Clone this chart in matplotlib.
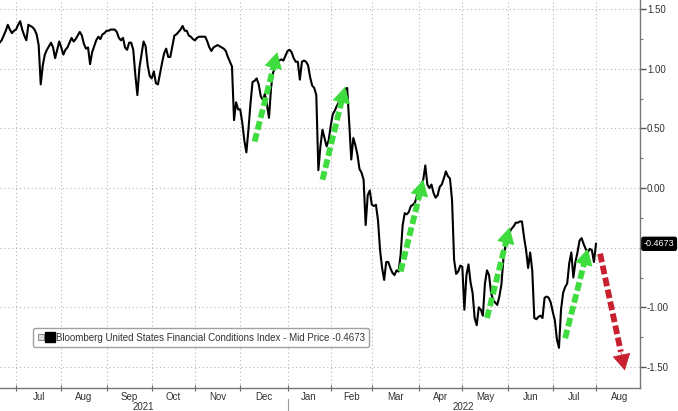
import numpy as np
import pandas as pd
import matplotlib
matplotlib.use("Agg")
import matplotlib.pyplot as plt
import matplotlib.transforms as mtransforms
from matplotlib.lines import Line2D
from matplotlib.legend_handler import HandlerTuple

plt.rcParams['font.family'] = ['Liberation Sans', 'DejaVu Sans']
plt.rcParams['axes.unicode_minus'] = False

# ---------------- data ----------------
start_date = '2021-06-21'          # first business day shown; one value per business day
fci_values = [
    # Jun 2021 (21-30)
    1.22, 1.24, 1.28, 1.32, 1.37, 1.33, 1.30, 1.32,
    # Jul 2021
    1.33, 1.37, 1.40, 1.33, 1.28, 1.24, 1.37, 1.36, 1.35, 1.33, 1.29, 1.20, 0.87, 1.03, 1.12, 1.16,
    1.19, 1.22, 1.18, 1.09, 1.16, 1.23,
    # Aug 2021
    1.18, 1.12, 1.16, 1.18, 1.22, 1.26, 1.23, 1.25, 1.28, 1.31, 1.28, 1.21, 1.17, 1.18, 1.04, 1.14,
    1.19, 1.24, 1.27, 1.25, 1.29, 1.30,
    # Sep 2021
    1.32, 1.32, 1.33, 1.33, 1.33, 1.31, 1.26, 1.24, 1.26, 1.18, 1.16, 1.22, 1.22, 1.16, 0.95, 0.78,
    1.01, 1.12, 1.23, 1.19, 1.03, 0.94,
    # Oct 2021
    0.92, 0.98, 0.88, 0.87, 0.96, 1.05, 1.13, 1.17, 1.10, 1.10, 1.19, 1.28, 1.29, 1.31, 1.33, 1.36,
    1.32, 1.32, 1.28, 1.27, 1.25,
    # Nov 2021
    1.24, 1.26, 1.27, 1.27, 1.27, 1.27, 1.23, 1.18, 1.15, 1.18, 1.19, 1.20, 1.19, 1.18, 1.17, 1.15,
    1.10, 1.06, 1.02, 0.57, 0.72, 0.66,
    # Dec 2021
    0.66, 0.55, 0.40, 0.30, 0.49, 0.71, 0.89, 0.90, 0.92, 0.87, 0.77, 0.74, 0.79, 0.70, 0.59, 0.84,
    0.97, 1.01, 1.04, 1.07, 1.08, 1.07, 1.11,
    # Jan 2022
    1.15, 1.16, 1.14, 1.09, 1.06, 1.06, 0.91, 1.06, 1.07, 1.06, 1.03, 0.93, 0.86, 0.84, 0.78, 0.15,
    0.35, 0.49, 0.42, 0.35, 0.40,
    # Feb 2022
    0.52, 0.62, 0.65, 0.69, 0.72, 0.74, 0.78, 0.83, 0.84, 0.55, 0.24, 0.42, 0.36, 0.28, 0.16, 0.13,
    0.07, -0.31, -0.06, -0.02,
    # Mar 2022
    -0.14, -0.15, -0.14, -0.27, -0.52, -0.67, -0.77, -0.62, -0.62, -0.67, -0.71, -0.73, -0.69, -0.70,
    -0.56, -0.31, -0.21, -0.22, -0.20, -0.15, -0.14, -0.12, -0.06,
    # Apr 2022
    -0.02, 0.02, 0.07, 0.19, 0.03, 0.00, 0.03, -0.04, -0.08, -0.06, 0.01, 0.03, 0.08, 0.14, 0.10,
    0.08, -0.10, -0.60, -0.72, -0.70, -0.65,
    # May 2022
    -0.66, -1.02, -0.73, -0.64, -0.79, -0.88, -1.09, -1.15, -1.00, -1.02, -1.07, -0.80, -0.69, -0.73,
    -0.88, -0.94, -0.96, -0.98, -0.91, -0.81, -0.59, -0.48,
    # Jun 2022
    -0.42, -0.37, -0.34, -0.32, -0.29, -0.29, -0.28, -0.28, -0.41, -0.52, -0.67, -0.54, -0.69, -1.09,
    -1.10, -1.08, -1.07, -1.09, -0.92, -0.91, -0.92, -0.96,
    # Jul 2022
    -1.04, -1.11, -1.27, -1.34, -1.02, -0.88, -0.83, -0.80, -0.63, -0.54, -0.75, -0.62, -0.54, -0.44,
    -0.42, -0.47, -0.51, -0.54, -0.51, -0.52, -0.62,
    # Aug 1 2022
    -0.4673,
]
last_value = -0.4673
series_label = 'Bloomberg United States Financial Conditions Index - Mid Price'
y_ticks = [1.50, 1.00, 0.50, 0.00, -0.50, -1.00, -1.50]
month_starts = pd.date_range('2021-07-01', '2022-09-01', freq='MS')
year_labels = ['2021', '2022']

# (start date, start value, end date, end value)
green_arrows = [
    ('2021-12-10', 0.39, '2021-12-27', 1.14),
    ('2022-01-26', 0.07, '2022-02-10', 0.85),
    ('2022-03-21', -0.70, '2022-04-05', 0.07),
    ('2022-05-18', -1.09, '2022-06-02', -0.33),
    ('2022-07-11', -1.26, '2022-07-26', -0.51),
]
red_arrows = [
    ('2022-08-03', -0.55, '2022-08-19', -1.53),
]

# ---------------- helpers ----------------
start64 = np.datetime64(start_date, 'D')


def bpos(d):
    d64 = np.datetime64(pd.Timestamp(d).date(), 'D')
    return int(np.busday_count(start64, d64))


dates = pd.bdate_range(start_date, periods=len(fci_values))
xpos = np.array([bpos(d) for d in dates])

# ---------------- figure ----------------
W, H = 678, 411
fig = plt.figure(figsize=(W / 100, H / 100), dpi=100)
fig.patch.set_facecolor('white')
ax = fig.add_axes([0, 23 / H, 640 / W, 388 / H])
ax.set_facecolor('white')

# month boundary ticks (first business day of each month)
month_pos = []
for m in month_starts:
    fb = np.busday_offset(np.datetime64(m.date(), 'D'), 0, roll='forward')
    month_pos.append(int(np.busday_count(start64, fb)))
ax.set_xticks(month_pos[:-1])
ax.set_xticklabels([])
ax.tick_params(axis='x', which='major', direction='inout', length=4, color='#666666', width=0.8)

# y axis on the right
ax.yaxis.tick_right()
ax.set_yticks(y_ticks)
ax.set_yticklabels([('' if abs(v - round(last_value * 2) / 2) < 1e-9 else f'{v:.2f}') for v in y_ticks])
ax.set_yticks([v + 0.25 for v in y_ticks[1:]], minor=True)
ax.tick_params(axis='y', which='major', direction='out', length=4, color='#555555', width=1,
               labelsize=7, labelcolor='#333333', pad=1)
ax.tick_params(axis='y', which='minor', direction='out', length=2, color='#777777', width=0.8)

# limits after ticks so they are not expanded
ax.set_xlim(0.2, 311.4)
ax.set_ylim(-1.677, 1.578)

# month labels centred between boundaries
trans = mtransforms.blended_transform_factory(ax.transData, ax.transAxes)
for i in range(len(month_starts) - 1):
    mid = (month_pos[i] + month_pos[i + 1]) / 2
    ax.text(mid, -0.022, month_starts[i].strftime('%b'), transform=trans, ha='center', va='center',
            fontsize=7, color='#333333', clip_on=False)

# year labels and separator
jan_pos = [p for p, m in zip(month_pos, month_starts) if m.month == 1][0]
x0, x1 = ax.get_xlim()
ax.text((x0 + jan_pos) / 2, -0.050, year_labels[0], transform=trans, ha='center', va='center',
        fontsize=7, color='#333333', clip_on=False)
ax.text((jan_pos + x1) / 2, -0.050, year_labels[1], transform=trans, ha='center', va='center',
        fontsize=7, color='#333333', clip_on=False)
ax.plot([jan_pos, jan_pos], [-0.028, -0.062], transform=trans, color='#999999', lw=0.8, clip_on=False)

for s in ['left', 'top']:
    ax.spines[s].set_visible(False)
for s in ['right', 'bottom']:
    ax.spines[s].set_color('#777777')
    ax.spines[s].set_linewidth(1.0)

ax.grid(True, which='major', axis='both', linestyle=(0, (1, 2.5)), color='#b5b5b5', lw=0.8)
ax.set_axisbelow(True)

# main line
ax.plot(xpos, fci_values, color='black', lw=1.5, zorder=3, label=f'{series_label} {last_value:.4f}')


def draw_arrow(a, color):
    sd, sv, ed, ev = a
    xs, xe = bpos(sd), bpos(ed)
    f = 0.84
    xm, ym = xs + f * (xe - xs), sv + f * (ev - sv)
    ax.plot([xs, xm], [sv, ym], color=color, lw=4.2, linestyle=(0, (1.5, 0.6)),
            solid_capstyle='butt', dash_capstyle='butt', zorder=4)
    ax.annotate('', xy=(xe, ev), xytext=(xm, ym),
                arrowprops=dict(arrowstyle='-|>,head_length=0.9,head_width=0.5', color=color,
                                lw=0.5, shrinkA=0, shrinkB=0, mutation_scale=12),
                zorder=4)


for a in green_arrows:
    draw_arrow(a, '#3fdc3f')
for a in red_arrows:
    draw_arrow(a, '#c9202f')

# legend
h_small = Line2D([], [], marker='s', linestyle='none', markerfacecolor='#dddddd',
                 markeredgecolor='#888888', markersize=4, markeredgewidth=0.7)
h_black = Line2D([], [], marker='s', linestyle='none', markerfacecolor='black',
                 markeredgecolor='black', markersize=6.5)
leg = ax.legend([(h_small, h_black)], [f'{series_label} {last_value:.4f}'],
                handler_map={tuple: HandlerTuple(ndivide=None, pad=0.25)},
                loc='lower left', bbox_to_anchor=(33 / 640, (388 - 347) / 388), borderaxespad=0,
                fontsize=7, frameon=True, fancybox=True, handlelength=1.6, handletextpad=0.3,
                borderpad=0.45, labelcolor='#333333')
leg.get_frame().set_edgecolor('#888888')
leg.get_frame().set_linewidth(1.0)
leg.set_zorder(5)

# last value tag
transy = mtransforms.blended_transform_factory(ax.transAxes, ax.transData)
ax.text(1.006, last_value, f'{last_value:.4f}', transform=transy, ha='left', va='center',
        fontsize=6.5, color='white', clip_on=False, zorder=6,
        bbox=dict(boxstyle='round,pad=0.22,rounding_size=0.2', fc='black', ec='black'))

fig.savefig('out.png', dpi=100, facecolor='white')
